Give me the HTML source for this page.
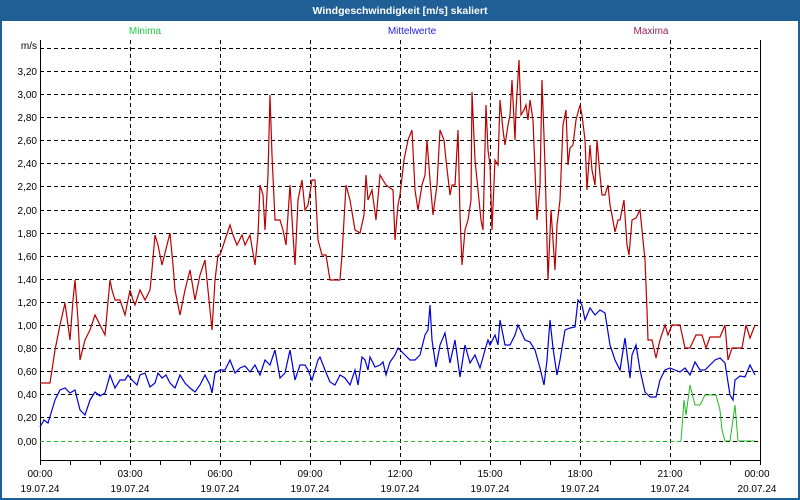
<!DOCTYPE html><html><head><style>body{margin:0;background:#fff}svg{display:block}</style></head><body>
<svg width="800" height="500" xmlns="http://www.w3.org/2000/svg" font-family="Liberation Sans, sans-serif">
<rect x="0" y="0" width="800" height="500" fill="#fff"/>
<rect x="0" y="0" width="800" height="21" fill="#1f5f95"/>
<rect x="1" y="1" width="798" height="498" fill="none" stroke="#1f5f95" stroke-width="2"/>
<text x="400" y="14" fill="#fff" font-size="10.5" font-weight="bold" text-anchor="middle">Windgeschwindigkeit [m/s] skaliert</text>
<text x="145" y="34" fill="#22cc44" font-size="10" text-anchor="middle">Minima</text>
<text x="412" y="34" fill="#2222ee" font-size="10" text-anchor="middle">Mittelwerte</text>
<text x="651" y="34" fill="#992255" font-size="10" text-anchor="middle">Maxima</text>
<g stroke="#000" stroke-dasharray="4,3" stroke-width="1">
<line x1="40" x2="760" y1="48.5" y2="48.5"/><line x1="40" x2="760" y1="71.5" y2="71.5"/><line x1="40" x2="760" y1="94.5" y2="94.5"/><line x1="40" x2="760" y1="117.5" y2="117.5"/><line x1="40" x2="760" y1="140.5" y2="140.5"/><line x1="40" x2="760" y1="163.5" y2="163.5"/><line x1="40" x2="760" y1="186.5" y2="186.5"/><line x1="40" x2="760" y1="210.5" y2="210.5"/><line x1="40" x2="760" y1="233.5" y2="233.5"/><line x1="40" x2="760" y1="256.5" y2="256.5"/><line x1="40" x2="760" y1="279.5" y2="279.5"/><line x1="40" x2="760" y1="302.5" y2="302.5"/><line x1="40" x2="760" y1="325.5" y2="325.5"/><line x1="40" x2="760" y1="348.5" y2="348.5"/><line x1="40" x2="760" y1="371.5" y2="371.5"/><line x1="40" x2="760" y1="394.5" y2="394.5"/><line x1="40" x2="760" y1="417.5" y2="417.5"/><line x1="40" x2="760" y1="441.5" y2="441.5"/>
<line y1="40" y2="460" x1="130.5" x2="130.5"/><line y1="40" y2="460" x1="220.5" x2="220.5"/><line y1="40" y2="460" x1="310.5" x2="310.5"/><line y1="40" y2="460" x1="400.5" x2="400.5"/><line y1="40" y2="460" x1="490.5" x2="490.5"/><line y1="40" y2="460" x1="580.5" x2="580.5"/><line y1="40" y2="460" x1="670.5" x2="670.5"/>
</g>
<g stroke="#000" fill="none"><path d="M40.5 40V460.5H760.5V40"/>
<path d="M70.5 460v5M100.5 460v5M130.5 460v5M160.5 460v5M190.5 460v5M220.5 460v5M250.5 460v5M280.5 460v5M310.5 460v5M340.5 460v5M370.5 460v5M400.5 460v5M430.5 460v5M460.5 460v5M490.5 460v5M520.5 460v5M550.5 460v5M580.5 460v5M610.5 460v5M640.5 460v5M670.5 460v5M700.5 460v5M730.5 460v5M40.5 460v5M760.5 460v5"/></g>
<g font-size="10" fill="#000" text-anchor="end">
<text x="37" y="49">m/s</text><text x="37" y="75">3,20</text><text x="37" y="98">3,00</text><text x="37" y="121">2,80</text><text x="37" y="144">2,60</text><text x="37" y="167">2,40</text><text x="37" y="190">2,20</text><text x="37" y="214">2,00</text><text x="37" y="237">1,80</text><text x="37" y="260">1,60</text><text x="37" y="283">1,40</text><text x="37" y="306">1,20</text><text x="37" y="329">1,00</text><text x="37" y="352">0,80</text><text x="37" y="375">0,60</text><text x="37" y="398">0,40</text><text x="37" y="421">0,20</text><text x="37" y="445">0,00</text>
</g>
<g font-size="10" fill="#000" text-anchor="middle">
<text x="40" y="477">00:00</text><text x="40" y="492">19.07.24</text>
<text x="130" y="477">03:00</text><text x="130" y="492">19.07.24</text>
<text x="220" y="477">06:00</text><text x="220" y="492">19.07.24</text>
<text x="310" y="477">09:00</text><text x="310" y="492">19.07.24</text>
<text x="400" y="477">12:00</text><text x="400" y="492">19.07.24</text>
<text x="490" y="477">15:00</text><text x="490" y="492">19.07.24</text>
<text x="580" y="477">18:00</text><text x="580" y="492">19.07.24</text>
<text x="670" y="477">21:00</text><text x="670" y="492">19.07.24</text>
<text x="757" y="477">00:00</text><text x="757" y="492">20.07.24</text>
</g>
<line x1="40" x2="681" y1="441.5" y2="441.5" stroke="#22bb22" stroke-dasharray="4,3"/>
<polyline fill="none" stroke="#22bb22" stroke-width="1" points="681,441 684,400 686,415 690,385 693,397 695,405 700,405 705,395 710,395 716,395 720,410 722,430 725,441 730,441 735,405 738,441 755,441"/>
<polyline fill="none" stroke="#0000dd" stroke-width="1.2" points="40,427 44,420 48,423 52,410 55,400 60,390 65,388 70,393 75,390 80,410 85,415 90,400 95,392 100,396 105,393 110,375 115,388 120,380 125,380 128,375 132,380 137,385 140,375 145,373 150,387 155,383 158,373 162,378 166,375 170,383 175,388 180,375 185,383 190,388 195,392 200,385 205,375 210,385 212,393 215,373 220,370 225,370 230,360 235,373 240,368 245,366 250,372 255,365 260,375 265,360 270,365 275,350 280,378 285,373 290,350 295,380 300,365 305,365 308,370 312,380 318,360 320,357 325,370 330,382 335,385 340,375 345,378 350,385 355,370 358,385 362,357 365,360 368,370 370,357 375,367 380,365 383,362 386,375 390,362 395,355 398,348 400,350 405,355 410,360 415,360 420,355 425,335 428,330 430,305 432,340 436,367 440,345 445,333 450,363 455,340 460,377 465,345 470,363 475,355 480,368 485,350 488,340 490,345 495,335 498,345 500,320 505,345 510,345 515,335 518,325 525,340 530,342 535,350 540,368 544,385 547,360 550,320 553,348 557,375 560,360 565,330 570,328 575,327 578,300 582,305 585,320 590,308 595,315 600,310 605,313 610,345 615,360 620,370 625,338 630,378 632,355 636,345 640,370 645,392 650,397 656,397 660,380 665,370 670,368 675,370 680,372 685,368 690,375 695,362 700,370 705,370 710,365 715,360 720,358 725,363 730,395 733,400 735,380 740,376 745,377 750,365 755,375"/>
<polyline fill="none" stroke="#bb0000" stroke-width="1.2" points="40,383 50,383 55,350 60,325 65,303 70,340 73,300 75,280 78,320 80,360 85,340 90,330 95,315 100,325 105,335 110,280 112,290 115,300 120,300 125,315 130,290 133,300 135,305 140,290 145,300 150,290 152,270 155,235 158,245 162,265 165,253 170,233 173,265 175,290 180,315 185,290 190,270 195,300 200,275 205,260 210,310 212,330 215,280 218,255 220,255 225,240 230,225 233,235 237,245 242,235 245,245 250,235 255,265 258,235 260,185 263,195 265,230 268,175 270,95 272,155 275,220 280,220 283,230 286,245 290,185 293,235 295,265 298,200 300,190 302,180 305,210 308,205 312,180 315,180 318,240 322,255 326,255 330,280 340,280 342,255 346,185 350,200 355,230 360,233 364,215 366,175 368,200 372,190 376,220 380,175 386,185 393,190 395,240 398,205 400,195 404,160 408,140 412,130 415,190 418,210 422,185 425,175 427,140 430,180 433,215 437,185 440,130 444,140 446,160 450,195 452,185 455,185 458,130 460,215 462,265 465,230 468,220 471,200 472,92 475,160 478,190 481,220 483,230 486,105 488,150 490,165 492,230 495,160 498,165 500,100 503,130 505,145 508,125 510,115 512,80 515,140 516,110 519,60 521,115 524,110 526,105 528,120 530,100 533,120 535,170 537,220 540,185 542,80 545,165 548,280 551,210 555,270 557,225 560,200 563,125 566,110 568,165 570,148 573,145 576,120 580,105 582,115 585,140 587,190 590,145 592,170 595,185 597,140 600,175 602,195 605,195 608,185 610,205 612,215 615,232 618,220 620,220 624,200 627,245 629,255 632,220 636,218 640,210 645,260 647,310 648,340 652,340 656,358 660,340 665,325 668,335 672,325 680,325 685,348 690,348 696,335 702,335 706,348 710,337 720,337 725,325 728,360 732,348 738,348 742,348 746,325 750,338 755,325"/>
</svg>
</body></html>
